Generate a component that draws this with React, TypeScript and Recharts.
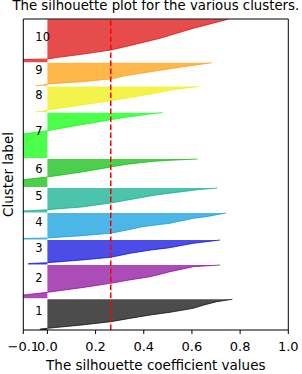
import React from 'react';
import { ComposedChart, Area, XAxis, YAxis, ReferenceLine, ReferenceDot } from 'recharts';

// y = position along the stacked sample axis (bottom = 0), s = silhouette value (sorted)
const cluster1 = [[0, -0.03], [1, -0.03], [1.7, 0.0], [5, 0.143], [8.3, 0.263], [11.5, 0.34], [15, 0.427], [17.7, 0.509], [21.7, 0.606], [25, 0.65], [28.3, 0.703], [30.7, 0.768]];
const cluster2 = [[31.7, -0.1], [35, -0.1], [37.7, 0.0], [42.3, 0.143], [46.7, 0.263], [50, 0.34], [53.3, 0.427], [58.3, 0.509], [63.3, 0.606], [65, 0.717]];
const cluster3 = [[65.5, -0.078], [66.5, -0.078], [67.3, 0.0], [70, 0.143], [72.7, 0.263], [77, 0.35], [80, 0.43], [82, 0.5], [86.7, 0.606], [90, 0.717]];
const cluster4 = [[90.5, -0.1], [91.5, -0.1], [92, 0.0], [94.3, 0.143], [96.7, 0.263], [100, 0.33], [103.5, 0.4], [106.7, 0.509], [111.7, 0.606], [113.3, 0.66], [117, 0.741]];
const cluster5 = [[117.5, -0.1], [119, -0.1], [120.3, 0.0], [123, 0.143], [127, 0.263], [132, 0.38], [135, 0.45], [138.5, 0.565], [140.5, 0.63], [142, 0.705]];
const cluster6 = [[143, -0.1], [150.3, -0.1], [153, 0.0], [158, 0.143], [163, 0.263], [165.5, 0.323], [168.5, 0.43], [169.7, 0.51], [171, 0.623]];
const cluster7 = [[172, -0.1], [196, -0.1], [199.3, 0.0], [205.3, 0.143], [210.3, 0.263], [212.7, 0.323], [216.7, 0.448], [217.3, 0.479]];
const cluster8 = [[218, -0.048], [218.8, -0.02], [220, 0.0], [225, 0.143], [229.3, 0.263], [231.7, 0.323], [236.7, 0.448], [240, 0.51], [243.6, 0.63]];
const cluster9 = [[244.2, -0.048], [244.8, -0.02], [246, 0.0], [248.3, 0.143], [251, 0.263], [254.3, 0.323], [259, 0.448], [263.3, 0.565], [267.3, 0.683]];
const cluster10 = [[267.7, -0.1], [270.5, -0.1], [271, 0.0], [272.7, 0.046], [275.7, 0.143], [280, 0.263], [283.3, 0.323], [291.7, 0.468], [296.7, 0.537], [301.7, 0.606], [306, 0.675], [310.7, 0.749]];

const clusters = [cluster1, cluster2, cluster3, cluster4, cluster5, cluster6, cluster7, cluster8, cluster9, cluster10];
const clusterNames = ['1', '2', '3', '4', '5', '6', '7', '8', '9', '10'];
// nipy_spectral(i / 10)
const clusterColors = ['#000000', '#880099', '#0000dd', '#0099dd', '#00aa88', '#00bb00', '#00ff00', '#eeee00', '#ff9900', '#dd0000'];

const xTicks = [-0.1, 0, 0.2, 0.4, 0.6, 0.8, 1.0];
const silhouetteAvg = 0.263;
const yMax = 311;
const font = 'DejaVu Sans, sans-serif';

const fmt = (v: number) => (v < 0 ? '\u2212' + Math.abs(v).toFixed(1) : v.toFixed(1));

export default function App() {
  const series = clusters.map((c) => c.map(([y, s]) => ({ y, s })));

  return (
    <div style={{ position: 'absolute', left: 0, top: 0, width: 302, height: 374, background: '#fff', fontFamily: font }}>
      <svg width={302} height={18} style={{ position: 'absolute', left: 0, top: 0 }}>
        <text x={155.8} y={10} textAnchor="middle" fontSize={13.3} fontFamily={font} fill="#000">
          The silhouette plot for the various clusters.
        </text>
      </svg>
      <ComposedChart width={302} height={374} layout="vertical" margin={{ top: 19, right: 13.7, bottom: 0, left: 0 }}>
        <XAxis
          type="number"
          dataKey="s"
          domain={[-0.1, 1]}
          ticks={xTicks}
          interval={0}
          tickFormatter={fmt}
          height={44}
          tickSize={4}
          tickMargin={8}
          stroke="#000"
          tick={{ fill: '#000', fontSize: 13, fontFamily: font }}
          allowDataOverflow
          label={{
            content: (p: any) => (
              <text x={p.viewBox.x + p.viewBox.width / 2} y={370} textAnchor="middle" fontSize={13.5} fontFamily={font} fill="#000">
                The silhouette coefficient values
              </text>
            ),
          }}
        />
        <YAxis
          type="number"
          dataKey="y"
          domain={[0, yMax]}
          reversed
          width={23.3}
          tick={false}
          tickLine={false}
          stroke="#000"
          label={{
            content: (p: any) => {
              const cy = p.viewBox.y + p.viewBox.height / 2;
              return (
                <text x={13} y={cy} transform={`rotate(-90, 13, ${cy})`} textAnchor="middle" fontSize={13.5} fontFamily={font} fill="#000">
                  Cluster label
                </text>
              );
            },
          }}
        />
        {series.map((d, i) => (
          <Area
            key={clusterNames[i]}
            data={d}
            dataKey="s"
            type="linear"
            fill={clusterColors[i]}
            fillOpacity={0.7}
            stroke={clusterColors[i]}
            strokeOpacity={0.7}
            strokeWidth={1}
            dot={false}
            activeDot={false}
            isAnimationActive={false}
          />
        ))}
        <ReferenceLine x={silhouetteAvg} stroke="#ff0000" strokeWidth={1.5} strokeDasharray="5.5 2.5" />
        <ReferenceLine y={yMax} stroke="#000" strokeWidth={1} />
        <ReferenceLine x={1} stroke="#000" strokeWidth={1} />
        {clusters.map((c, i) => {
          const mid = (c[0][0] + c[c.length - 1][0]) / 2;
          return (
            <ReferenceDot
              key={'lbl' + i}
              x={-0.05}
              y={mid}
              r={0}
              fill="none"
              stroke="none"
              label={{
                content: (p: any) => (
                  <text x={p.viewBox.x} y={p.viewBox.y} fontSize={11.5} fontFamily={font} fill="#000">
                    {clusterNames[i]}
                  </text>
                ),
              }}
            />
          );
        })}
      </ComposedChart>
    </div>
  );
}
